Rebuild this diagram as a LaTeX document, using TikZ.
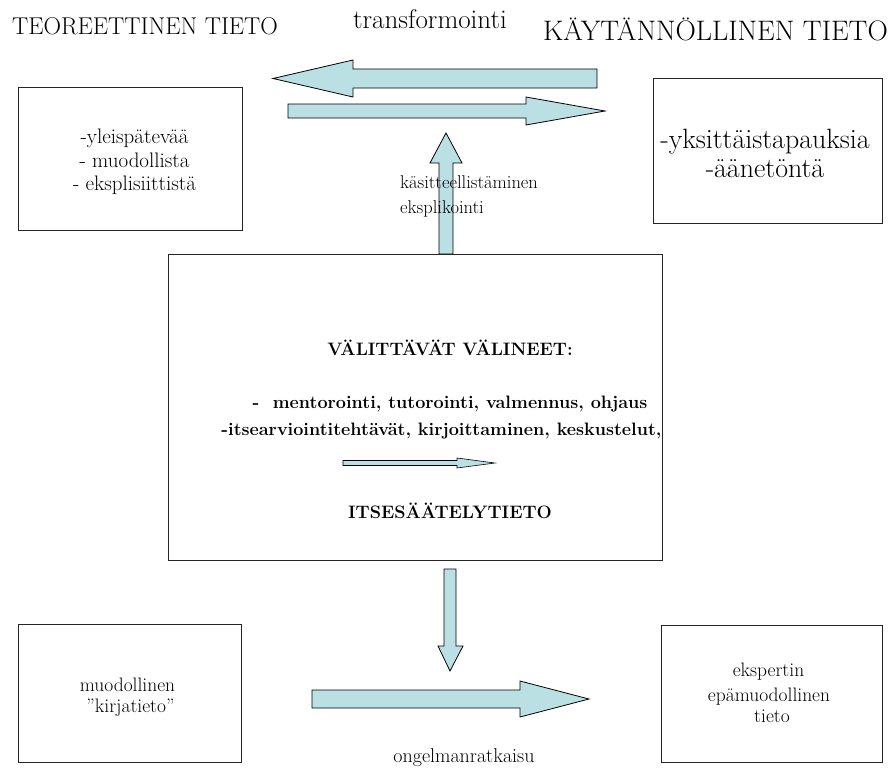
\documentclass[tikz,border=0pt]{standalone}
\definecolor{arrowfill}{RGB}{187,224,228}
\newcommand\txtsize[1]{\fontsize{#1}{#1}\selectfont}
\tikzset{
  panel/.style={draw=black!85,line width=1pt,inner sep=0pt},
  blockarrow/.style={draw=black,line width=0.8pt,fill=arrowfill,line join=miter},
  txt/.style={inner sep=0pt,anchor=base}
}
\begin{document}
\begin{tikzpicture}[x=1pt,y=-1pt]
\useasboundingbox (0,0) rectangle (890,769);

% boxes
\node[panel,minimum width=224pt,minimum height=143pt] (theory) at (130,158.5) {};
\node[panel,minimum width=229pt,minimum height=145pt] (practice) at (767.5,150.5) {};
\node[panel,minimum width=494pt,minimum height=306pt] (tools) at (415,407) {};
\node[panel,minimum width=223pt,minimum height=138pt] (formal) at (129.5,693) {};
\node[panel,minimum width=221pt,minimum height=137pt] (expert) at (771.5,693.5) {};

% block arrows
\draw[blockarrow] (597,69) -- (353,69) -- (353,60) -- (273,78.5) -- (353,97) -- (353,88) -- (597,88) -- cycle;
\draw[blockarrow] (288,104) -- (526,104) -- (526,97) -- (605,111) -- (526,125) -- (526,118) -- (288,118) -- cycle;
\draw[blockarrow] (439,254) -- (439,163) -- (430,163) -- (446,133) -- (462,163) -- (453,163) -- (453,254) -- cycle;
\draw[blockarrow] (444,569) -- (456,569) -- (456,646) -- (463,646) -- (450,671) -- (438,646) -- (444,646) -- cycle;
\draw[blockarrow] (312,690) -- (520,690) -- (520,681) -- (589,699) -- (520,717) -- (520,708) -- (312,708) -- cycle;
\draw[blockarrow,line width=0.6pt] (343,460.5) -- (457,460.5) -- (457,458) -- (495,463) -- (457,468) -- (457,465.5) -- (343,465.5) -- cycle;

% headings
\node[txt,font=\txtsize{24.3}] (hleft) at (145,34) {TEOREETTINEN TIETO};
\node[txt,font=\txtsize{27}] (hmid) at (430,28) {transformointi};
\node[txt,font=\txtsize{28.2}] (hright) at (715.5,40) {KÄYTÄNNÖLLINEN TIETO};

% theory box
\node[txt,font=\txtsize{21}] (t1) at (134.5,143) {-yleispätevää};
\node[txt,font=\txtsize{21}] (t2) at (134.5,167) {- muodollista};
\node[txt,font=\txtsize{21}] (t3) at (134.5,190) {- eksplisiittistä};

% practice box
\node[txt,font=\txtsize{27.9}] (p1) at (765,148) {-yksittäistapauksia};
\node[txt,font=\txtsize{27.9}] (p2) at (765,177) {-äänetöntä};

% label of the upward arrow
\node[txt,anchor=base west,font=\txtsize{18.5}] (up1) at (400,188) {käsitteellistäminen};
\node[txt,anchor=base west,font=\txtsize{18.5}] (up2) at (400,213) {eksplikointi};

% mediating tools
\node[txt,font=\txtsize{18}\bfseries] (m0) at (450,355) {VÄLITTÄVÄT VÄLINEET:};
\node[txt,font=\txtsize{18}\bfseries] (m1) at (450,408) {-\ \ mentorointi, tutorointi, valmennus, ohjaus};
\node[txt,font=\txtsize{18}\bfseries] (m2) at (441.5,435) {-itsearviointitehtävät, kirjoittaminen, keskustelut,};
\node[txt,font=\txtsize{18}\bfseries] (m3) at (450,518) {ITSESÄÄTELYTIETO};

% bottom boxes
\node[txt,font=\txtsize{19.5}] (f1) at (127.5,691) {muodollinen};
\node[txt,font=\txtsize{19.5}] (f2) at (130.5,712) {”kirjatieto”};
\node[txt,font=\txtsize{19.5}] (e1) at (768.5,676) {ekspertin};
\node[txt,font=\txtsize{19.5}] (e2) at (769,701) {epämuodollinen};
\node[txt,font=\txtsize{19.5}] (e3) at (772,722) {tieto};

% label of the bottom arrow
\node[txt,font=\txtsize{20}] (solve) at (464,762) {ongelmanratkaisu};
\end{tikzpicture}
\end{document}
